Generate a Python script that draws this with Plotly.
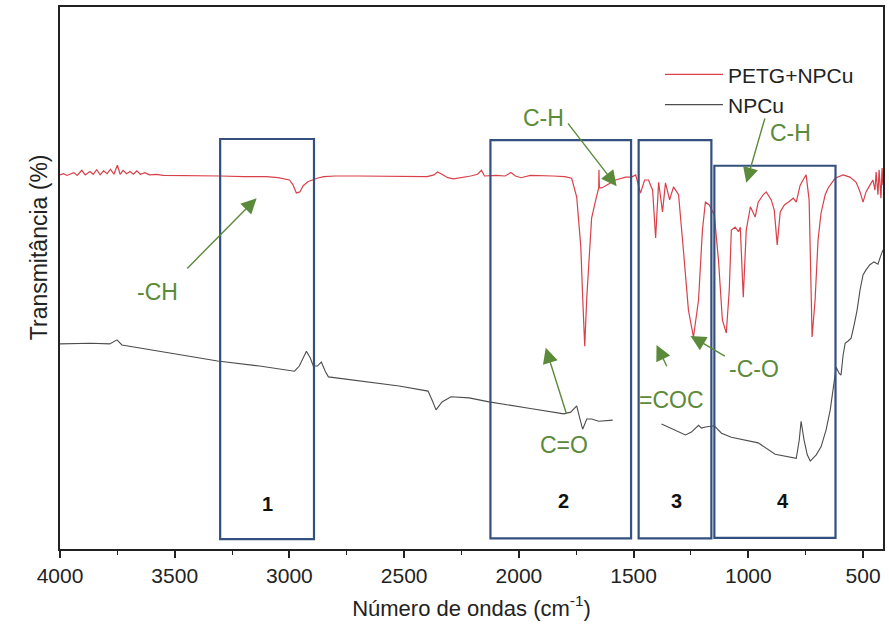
import plotly.graph_objects as go

# ---------------- data ----------------
wn_petg = [4000, 3985, 3970, 3955, 3940, 3925, 3905, 3890, 3870, 3855, 3840, 3825, 3810, 3795,
           3780, 3765, 3750, 3738, 3725, 3710, 3695, 3680, 3665, 3650, 3630, 3610, 3580, 3550,
           3500, 3400, 3300, 3200, 3100, 3050, 3000, 2985, 2970, 2955, 2940, 2920, 2900, 2880,
           2850, 2800, 2700, 2600, 2500, 2400, 2370, 2355, 2335, 2310, 2285, 2250, 2210, 2180,
           2163, 2150, 2100, 2060, 2035, 2015, 1990, 1950, 1900, 1850, 1800, 1770, 1748, 1730,
           1722, 1713, 1704, 1691, 1683, 1665, 1652, 1651, 1649, 1639, 1617, 1578, 1535, 1509,
           1491, 1470, 1452, 1435, 1417, 1404, 1391, 1374, 1361, 1343, 1326, 1304, 1283, 1261,
           1239, 1217, 1200, 1187, 1170, 1148, 1130, 1113, 1096, 1083, 1074, 1057, 1043, 1035,
           1022, 1009, 991, 970, 957, 935, 922, 900, 887, 874, 861, 843, 826, 804, 791, 774,
           757, 748, 735, 722, 709, 696, 683, 665, 652, 622, 587, 557, 530, 513, 500, 487,
           470, 457, 448, 443, 435, 430, 422, 417, 413]
t_petg = [70.5, 70.7, 70.4, 70.6, 70.9, 70.4, 71.3, 70.5, 71.1, 70.6, 71.4, 70.5, 71.2, 70.7,
          71.5, 70.6, 72.2, 70.6, 71.3, 70.7, 71.1, 70.6, 71.2, 70.6, 70.9, 70.5, 70.6, 70.4,
          70.4, 70.3, 70.3, 70.2, 70.2, 70.0, 69.6, 68.8, 67.3, 67.5, 68.6, 69.3, 69.6, 69.9,
          70.2, 70.3, 70.3, 70.3, 70.3, 70.2, 70.5, 71.0, 70.6, 70.0, 69.8, 70.0, 70.3, 70.6,
          71.3, 70.3, 70.4, 70.3, 70.9, 70.3, 70.0, 70.4, 70.4, 70.3, 70.2, 69.9, 66.6, 57.8,
          49.0, 40.4, 49.0, 57.8, 62.9, 66.1, 68.2, 71.4, 68.2, 68.2, 68.7, 69.6, 70.1, 70.1,
          70.5, 67.3, 69.6, 69.6, 67.8, 59.4, 69.2, 64.0, 69.1, 66.1, 68.4, 67.0, 57.3, 46.7,
          42.0, 48.5, 60.8, 65.7, 65.2, 63.4, 55.5, 45.0, 42.7, 50.3, 60.8, 61.3, 60.5, 61.3,
          49.0, 60.8, 64.9, 63.1, 65.7, 67.0, 67.5, 66.1, 64.3, 58.2, 64.0, 65.2, 65.7, 66.4, 65.7, 68.7,
          69.9, 70.5, 66.1, 42.0, 48.5, 59.1, 63.8, 67.0, 68.2, 69.9, 70.5, 70.1, 69.2, 67.5, 65.7, 67.5,
          68.7, 69.6, 67.8, 71.0, 67.0, 71.4, 66.4, 71.7, 68.7]

wn_npcu = [4000, 3865, 3783, 3752, 3730, 3626, 3313, 3130, 2978, 2957, 2926, 2909, 2896, 2878,
           2861, 2843, 2830, 2522, 2396, 2378, 2361, 2335, 2296, 2217, 2130, 1957, 1804, 1774,
           1748, 1735, 1722, 1704, 1683, 1652, 1591, None,
           1378, 1326, 1274, 1248, 1230, 1217, 1204, 1187, 1148, 1117, 1074, 957, 883, 791,
           778, 770, 757, 743, 730, 704, 683, 661, 643, 626, 617, 604, 596, 587, 578, 565,
           552, 539, 526, 513, 500, 487, 470, 452, 435, 422, 413]
t_npcu = [40.8, 40.9, 40.8, 41.5, 40.6, 39.9, 37.8, 36.9, 36.0, 36.9, 39.5, 38.3, 36.9, 36.9,
          37.6, 35.9, 35.0, 33.4, 32.5, 30.9, 29.2, 30.6, 31.5, 31.3, 30.6, 29.5, 28.5, 28.8,
          29.9, 27.8, 25.8, 27.6, 27.6, 27.2, 27.4, None,
          26.7, 25.7, 24.8, 25.3, 26.0, 26.5, 26.0, 26.2, 26.4, 25.1, 24.4, 23.4, 21.4, 20.7,
          23.9, 27.2, 23.9, 21.3, 20.2, 21.3, 22.7, 25.7, 29.2, 33.6, 36.7, 35.6, 35.3, 38.8, 40.9, 41.3,
          41.8, 44.1, 46.7, 50.3, 52.9, 53.8, 54.7, 55.2, 54.8, 56.4, 57.3]

x_ticks = [4000, 3500, 3000, 2500, 2000, 1500, 1000, 500]

# regions (boxes)
box_names = ["1", "2", "3", "4"]
box_wn_left = [3302, 2124, 1478, 1148]
box_wn_right = [2893, 1511, 1161, 620]
box_t_bottom = [6.5, 6.6, 6.6, 6.7]
box_t_top = [76.8, 76.6, 76.6, 72.1]
box_label_wn = [3096, 1804, 1313, 848]
box_label_t = [12.6, 13.2, 13.2, 13.2]

# band labels: text, text position, arrow tail, arrow tip
band_text = ["-CH", "C-H", "C-H", "C=O", "=COC", "-C-O"]
band_wn = [3574, 1891, 817, 1804, 1335, 974]
band_t = [49.9, 80.5, 77.9, 23.0, 30.9, 36.4]
arrow_tail_wn = [3452, 1791, 926, 1791, 1352, 1096]
arrow_tail_t = [53.8, 79.8, 80.7, 28.3, 36.6, 38.5]
arrow_tip_wn = [3143, 1574, 1009, 1883, 1400, 1252]
arrow_tip_t = [66.4, 68.5, 69.1, 40.1, 40.6, 42.2]

FONT = "Arial, Liberation Sans, sans-serif"
GREEN = "#5b8a3a"
BLUE = "#34507f"

fig = go.Figure()
fig.add_trace(go.Scatter(x=wn_petg, y=t_petg, mode="lines", name="PETG+NPCu",
                         line=dict(color="#d8404a", width=1.2), hoverinfo="skip"))
fig.add_trace(go.Scatter(x=wn_npcu, y=t_npcu, mode="lines", name="NPCu",
                         line=dict(color="#4d4d4d", width=1.1), connectgaps=False,
                         hoverinfo="skip"))

for i in range(len(box_names)):
    fig.add_shape(type="rect", xref="x", yref="y",
                  x0=box_wn_left[i], x1=box_wn_right[i],
                  y0=box_t_bottom[i], y1=box_t_top[i],
                  line=dict(color=BLUE, width=2.2), fillcolor="rgba(0,0,0,0)")
    fig.add_annotation(x=box_label_wn[i], y=box_label_t[i], text="<b>%s</b>" % box_names[i],
                       showarrow=False, font=dict(family=FONT, size=20, color="#111"))

for i in range(len(band_text)):
    fig.add_annotation(x=arrow_tip_wn[i], y=arrow_tip_t[i], ax=arrow_tail_wn[i], ay=arrow_tail_t[i],
                       xref="x", yref="y", axref="x", ayref="y", text="", showarrow=True,
                       arrowhead=2, arrowsize=2.2, arrowwidth=1.4, arrowcolor=GREEN, standoff=0)
    fig.add_annotation(x=band_wn[i], y=band_t[i], text=band_text[i], showarrow=False,
                       font=dict(family=FONT, size=23, color=GREEN))

fig.add_annotation(xref="paper", yref="paper", x=-0.0436, y=0.557, text="Transmitância (%)",
                   textangle=-90, showarrow=False, font=dict(family=FONT, size=23, color="#222"))

fig.update_layout(
    width=889, height=642,
    margin=dict(l=60, r=4, t=7, b=93),
    paper_bgcolor="white", plot_bgcolor="white",
    showlegend=True,
    hovermode=False,
    legend=dict(x=0.729, y=0.913, xanchor="left", yanchor="top", bgcolor="rgba(0,0,0,0)",
                font=dict(family=FONT, size=21, color="#222"), itemwidth=58,
                tracegroupgap=0),
    xaxis=dict(range=[4000, 413], tickvals=x_ticks, ticktext=[str(v) for v in x_ticks],
               ticks="outside", ticklen=7, tickwidth=1.5, tickcolor="#222",
               minor=dict(dtick=250, ticks="outside", ticklen=4, tickwidth=1.2, tickcolor="#222"),
               showline=True, linecolor="#222", linewidth=2, mirror=True,
               showgrid=False, zeroline=False,
               tickfont=dict(family=FONT, size=21, color="#222"),
               title=dict(text="Número de ondas (cm<sup>-1</sup>)", standoff=14,
                          font=dict(family=FONT, size=22, color="#222"))),
    yaxis=dict(range=[4.75, 100], showticklabels=False, ticks="", showline=True,
               linecolor="#222", linewidth=2, mirror=True, showgrid=False, zeroline=False),
)

fig.write_html("out.html", config={"displayModeBar": False},
               post_script="document.body.style.margin='0';document.body.style.overflow='hidden';")
